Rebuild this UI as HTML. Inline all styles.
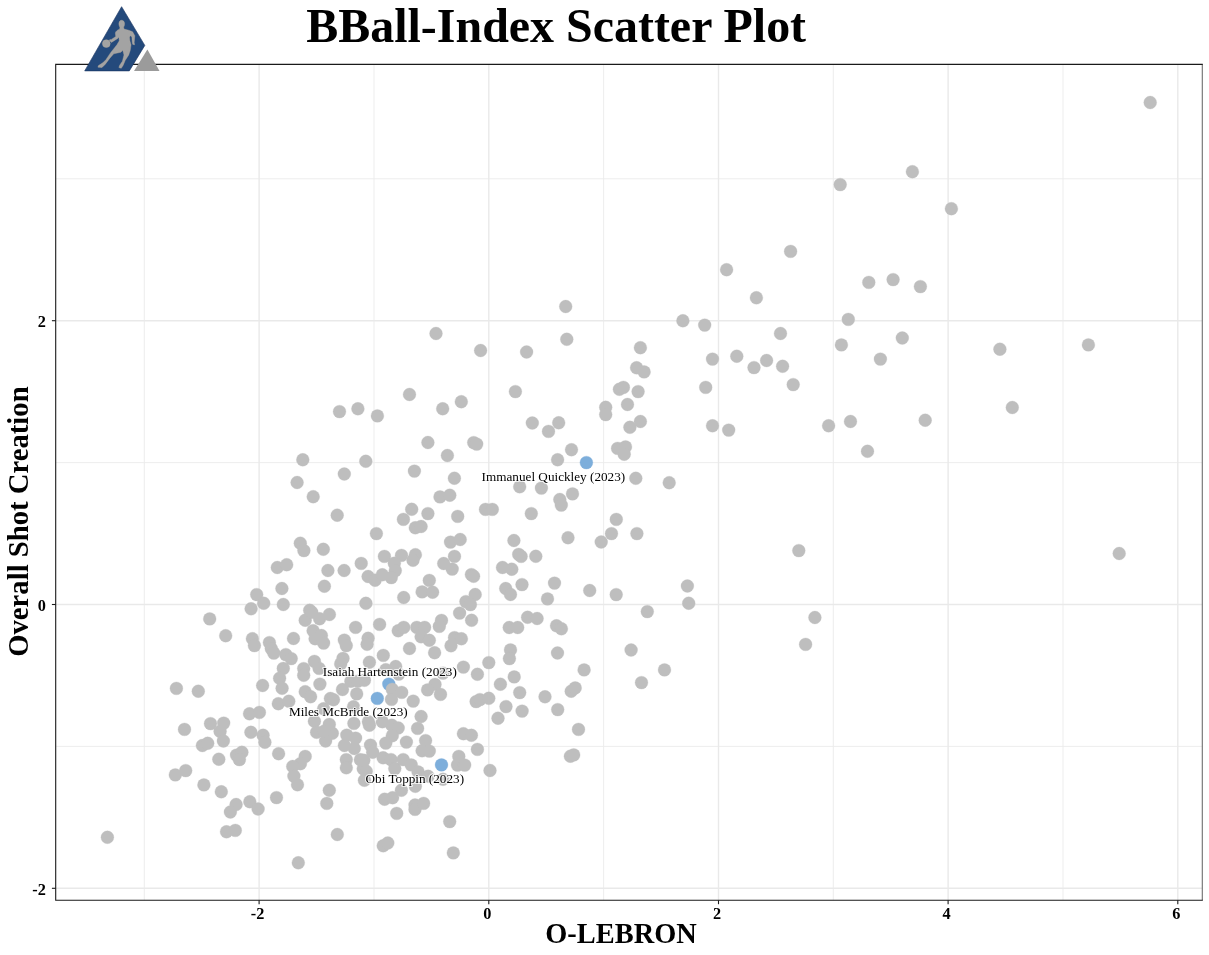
<!DOCTYPE html>
<html><head><meta charset="utf-8"><title>BBall-Index Scatter Plot</title>
<style>
html,body{margin:0;padding:0;background:#fff;}
body{width:1209px;height:955px;overflow:hidden;position:relative;font-family:"Liberation Serif","Times New Roman",serif;}
svg{position:absolute;left:0;top:0;display:block;}
text{font-family:"Liberation Serif","Times New Roman",serif;fill:#000;}
.t{font-weight:bold;font-size:16.3px;}
.g{fill:#bebebe;stroke:#bebebe;stroke-width:0.3;}
.b{fill:#7daedb;stroke:#7daedb;stroke-width:0.3;}
.lab{font-size:13.2px;paint-order:stroke;stroke:#ffffff;stroke-opacity:0.75;stroke-width:2.2px;stroke-linejoin:round;}
</style></head><body>
<svg width="1209" height="955" viewBox="0 0 1209 955">
<rect x="0" y="0" width="1209" height="955" fill="#ffffff"/>

<g stroke-width="1">
<line x1="144.3" y1="64.4" x2="144.3" y2="900.3" stroke="#ebebeb" stroke-width="0.9"/>
<line x1="374.0" y1="64.4" x2="374.0" y2="900.3" stroke="#ebebeb" stroke-width="0.9"/>
<line x1="603.6" y1="64.4" x2="603.6" y2="900.3" stroke="#ebebeb" stroke-width="0.9"/>
<line x1="833.3" y1="64.4" x2="833.3" y2="900.3" stroke="#ebebeb" stroke-width="0.9"/>
<line x1="1063.0" y1="64.4" x2="1063.0" y2="900.3" stroke="#ebebeb" stroke-width="0.9"/>
<line x1="55.7" y1="746.4" x2="1202.3" y2="746.4" stroke="#ebebeb" stroke-width="0.9"/>
<line x1="55.7" y1="462.6" x2="1202.3" y2="462.6" stroke="#ebebeb" stroke-width="0.9"/>
<line x1="55.7" y1="178.8" x2="1202.3" y2="178.8" stroke="#ebebeb" stroke-width="0.9"/>
<line x1="259.1" y1="64.4" x2="259.1" y2="900.3" stroke="#e9e9e9" stroke-width="1.4"/>
<line x1="488.8" y1="64.4" x2="488.8" y2="900.3" stroke="#e9e9e9" stroke-width="1.4"/>
<line x1="718.5" y1="64.4" x2="718.5" y2="900.3" stroke="#e9e9e9" stroke-width="1.4"/>
<line x1="948.1" y1="64.4" x2="948.1" y2="900.3" stroke="#e9e9e9" stroke-width="1.4"/>
<line x1="1177.8" y1="64.4" x2="1177.8" y2="900.3" stroke="#e9e9e9" stroke-width="1.4"/>
<line x1="55.7" y1="888.3" x2="1202.3" y2="888.3" stroke="#e9e9e9" stroke-width="1.4"/>
<line x1="55.7" y1="604.5" x2="1202.3" y2="604.5" stroke="#e9e9e9" stroke-width="1.4"/>
<line x1="55.7" y1="320.7" x2="1202.3" y2="320.7" stroke="#e9e9e9" stroke-width="1.4"/>
</g>
<g class="b">
<circle cx="586.4" cy="462.6" r="6.45"/>
<circle cx="388.8" cy="684.1" r="6.45"/>
<circle cx="377.3" cy="698.4" r="6.45"/>
<circle cx="441.5" cy="764.9" r="6.45"/>
</g>
<g class="g">
<circle cx="1150.2" cy="102.5" r="6.45"/>
<circle cx="912.4" cy="171.7" r="6.45"/>
<circle cx="951.4" cy="208.7" r="6.45"/>
<circle cx="920.4" cy="286.6" r="6.45"/>
<circle cx="840.2" cy="184.6" r="6.45"/>
<circle cx="790.6" cy="251.4" r="6.45"/>
<circle cx="726.6" cy="269.7" r="6.45"/>
<circle cx="756.4" cy="297.8" r="6.45"/>
<circle cx="868.8" cy="282.4" r="6.45"/>
<circle cx="893.1" cy="279.6" r="6.45"/>
<circle cx="565.7" cy="306.5" r="6.45"/>
<circle cx="566.8" cy="339.3" r="6.45"/>
<circle cx="480.6" cy="350.5" r="6.45"/>
<circle cx="526.6" cy="352.0" r="6.45"/>
<circle cx="640.4" cy="347.7" r="6.45"/>
<circle cx="636.6" cy="367.8" r="6.45"/>
<circle cx="644.1" cy="371.9" r="6.45"/>
<circle cx="515.4" cy="391.6" r="6.45"/>
<circle cx="461.3" cy="401.7" r="6.45"/>
<circle cx="619.4" cy="389.3" r="6.45"/>
<circle cx="623.4" cy="387.4" r="6.45"/>
<circle cx="638.1" cy="391.6" r="6.45"/>
<circle cx="627.5" cy="404.5" r="6.45"/>
<circle cx="605.7" cy="407.3" r="6.45"/>
<circle cx="605.7" cy="414.6" r="6.45"/>
<circle cx="640.4" cy="421.5" r="6.45"/>
<circle cx="629.9" cy="427.3" r="6.45"/>
<circle cx="532.3" cy="423.0" r="6.45"/>
<circle cx="558.7" cy="422.8" r="6.45"/>
<circle cx="548.5" cy="431.4" r="6.45"/>
<circle cx="682.9" cy="320.8" r="6.45"/>
<circle cx="704.7" cy="325.1" r="6.45"/>
<circle cx="780.5" cy="333.5" r="6.45"/>
<circle cx="712.5" cy="359.1" r="6.45"/>
<circle cx="736.8" cy="356.2" r="6.45"/>
<circle cx="766.6" cy="360.5" r="6.45"/>
<circle cx="754.0" cy="367.6" r="6.45"/>
<circle cx="782.6" cy="366.3" r="6.45"/>
<circle cx="793.2" cy="384.6" r="6.45"/>
<circle cx="705.7" cy="387.4" r="6.45"/>
<circle cx="712.5" cy="425.8" r="6.45"/>
<circle cx="728.7" cy="430.1" r="6.45"/>
<circle cx="828.6" cy="425.8" r="6.45"/>
<circle cx="848.3" cy="319.4" r="6.45"/>
<circle cx="841.4" cy="344.9" r="6.45"/>
<circle cx="902.3" cy="338.0" r="6.45"/>
<circle cx="880.4" cy="359.1" r="6.45"/>
<circle cx="999.9" cy="349.2" r="6.45"/>
<circle cx="1012.3" cy="407.5" r="6.45"/>
<circle cx="850.5" cy="421.5" r="6.45"/>
<circle cx="925.2" cy="420.2" r="6.45"/>
<circle cx="1088.4" cy="344.9" r="6.45"/>
<circle cx="436.0" cy="333.5" r="6.45"/>
<circle cx="409.5" cy="394.5" r="6.45"/>
<circle cx="339.5" cy="411.6" r="6.45"/>
<circle cx="357.9" cy="408.8" r="6.45"/>
<circle cx="377.4" cy="415.9" r="6.45"/>
<circle cx="442.7" cy="408.8" r="6.45"/>
<circle cx="427.9" cy="442.5" r="6.45"/>
<circle cx="302.8" cy="459.8" r="6.45"/>
<circle cx="365.8" cy="461.3" r="6.45"/>
<circle cx="344.3" cy="474.0" r="6.45"/>
<circle cx="297.1" cy="482.5" r="6.45"/>
<circle cx="313.2" cy="496.7" r="6.45"/>
<circle cx="337.2" cy="515.2" r="6.45"/>
<circle cx="376.4" cy="533.6" r="6.45"/>
<circle cx="300.3" cy="543.2" r="6.45"/>
<circle cx="303.9" cy="550.6" r="6.45"/>
<circle cx="323.3" cy="549.3" r="6.45"/>
<circle cx="277.3" cy="567.5" r="6.45"/>
<circle cx="286.7" cy="564.7" r="6.45"/>
<circle cx="327.9" cy="570.5" r="6.45"/>
<circle cx="344.1" cy="570.5" r="6.45"/>
<circle cx="361.2" cy="563.4" r="6.45"/>
<circle cx="281.9" cy="588.5" r="6.45"/>
<circle cx="324.4" cy="586.2" r="6.45"/>
<circle cx="384.4" cy="556.4" r="6.45"/>
<circle cx="401.5" cy="555.4" r="6.45"/>
<circle cx="415.4" cy="554.7" r="6.45"/>
<circle cx="413.0" cy="560.3" r="6.45"/>
<circle cx="394.3" cy="563.3" r="6.45"/>
<circle cx="395.3" cy="570.6" r="6.45"/>
<circle cx="368.1" cy="576.5" r="6.45"/>
<circle cx="375.1" cy="580.2" r="6.45"/>
<circle cx="382.3" cy="574.8" r="6.45"/>
<circle cx="391.3" cy="577.6" r="6.45"/>
<circle cx="450.5" cy="542.1" r="6.45"/>
<circle cx="460.2" cy="539.5" r="6.45"/>
<circle cx="454.5" cy="556.4" r="6.45"/>
<circle cx="443.7" cy="563.5" r="6.45"/>
<circle cx="452.2" cy="569.1" r="6.45"/>
<circle cx="429.3" cy="580.4" r="6.45"/>
<circle cx="422.1" cy="591.9" r="6.45"/>
<circle cx="432.6" cy="592.2" r="6.45"/>
<circle cx="403.7" cy="597.5" r="6.45"/>
<circle cx="365.9" cy="603.3" r="6.45"/>
<circle cx="473.7" cy="442.6" r="6.45"/>
<circle cx="476.7" cy="444.1" r="6.45"/>
<circle cx="447.4" cy="455.5" r="6.45"/>
<circle cx="414.4" cy="471.1" r="6.45"/>
<circle cx="454.4" cy="478.2" r="6.45"/>
<circle cx="440.0" cy="496.9" r="6.45"/>
<circle cx="449.8" cy="495.2" r="6.45"/>
<circle cx="411.7" cy="509.3" r="6.45"/>
<circle cx="427.9" cy="513.6" r="6.45"/>
<circle cx="403.4" cy="519.4" r="6.45"/>
<circle cx="415.3" cy="527.8" r="6.45"/>
<circle cx="421.1" cy="526.5" r="6.45"/>
<circle cx="457.7" cy="516.4" r="6.45"/>
<circle cx="485.5" cy="509.4" r="6.45"/>
<circle cx="492.3" cy="509.4" r="6.45"/>
<circle cx="471.4" cy="574.6" r="6.45"/>
<circle cx="473.6" cy="576.3" r="6.45"/>
<circle cx="571.5" cy="449.7" r="6.45"/>
<circle cx="557.6" cy="459.8" r="6.45"/>
<circle cx="519.7" cy="486.8" r="6.45"/>
<circle cx="541.4" cy="488.1" r="6.45"/>
<circle cx="572.5" cy="493.9" r="6.45"/>
<circle cx="559.8" cy="499.5" r="6.45"/>
<circle cx="561.3" cy="505.1" r="6.45"/>
<circle cx="531.3" cy="513.6" r="6.45"/>
<circle cx="568.0" cy="537.7" r="6.45"/>
<circle cx="513.9" cy="540.5" r="6.45"/>
<circle cx="518.7" cy="554.4" r="6.45"/>
<circle cx="521.1" cy="556.4" r="6.45"/>
<circle cx="535.8" cy="556.3" r="6.45"/>
<circle cx="502.5" cy="567.5" r="6.45"/>
<circle cx="511.8" cy="569.2" r="6.45"/>
<circle cx="522.0" cy="584.6" r="6.45"/>
<circle cx="554.5" cy="583.1" r="6.45"/>
<circle cx="617.6" cy="448.4" r="6.45"/>
<circle cx="625.5" cy="446.9" r="6.45"/>
<circle cx="624.2" cy="454.2" r="6.45"/>
<circle cx="635.8" cy="478.3" r="6.45"/>
<circle cx="669.2" cy="482.7" r="6.45"/>
<circle cx="616.3" cy="519.4" r="6.45"/>
<circle cx="611.5" cy="533.6" r="6.45"/>
<circle cx="636.9" cy="533.6" r="6.45"/>
<circle cx="601.2" cy="542.0" r="6.45"/>
<circle cx="687.4" cy="586.0" r="6.45"/>
<circle cx="867.5" cy="451.3" r="6.45"/>
<circle cx="1119.2" cy="553.5" r="6.45"/>
<circle cx="798.8" cy="550.6" r="6.45"/>
<circle cx="814.9" cy="617.5" r="6.45"/>
<circle cx="805.6" cy="644.4" r="6.45"/>
<circle cx="209.7" cy="618.9" r="6.45"/>
<circle cx="225.7" cy="635.7" r="6.45"/>
<circle cx="176.4" cy="688.4" r="6.45"/>
<circle cx="198.3" cy="691.2" r="6.45"/>
<circle cx="184.5" cy="729.4" r="6.45"/>
<circle cx="210.5" cy="723.6" r="6.45"/>
<circle cx="223.7" cy="723.1" r="6.45"/>
<circle cx="220.1" cy="731.4" r="6.45"/>
<circle cx="223.4" cy="741.0" r="6.45"/>
<circle cx="202.4" cy="745.5" r="6.45"/>
<circle cx="207.7" cy="743.3" r="6.45"/>
<circle cx="218.8" cy="759.2" r="6.45"/>
<circle cx="236.5" cy="755.1" r="6.45"/>
<circle cx="241.9" cy="752.3" r="6.45"/>
<circle cx="239.4" cy="759.6" r="6.45"/>
<circle cx="175.3" cy="774.9" r="6.45"/>
<circle cx="185.7" cy="770.6" r="6.45"/>
<circle cx="203.9" cy="784.9" r="6.45"/>
<circle cx="221.3" cy="791.8" r="6.45"/>
<circle cx="236.1" cy="804.5" r="6.45"/>
<circle cx="230.4" cy="812.0" r="6.45"/>
<circle cx="226.5" cy="831.8" r="6.45"/>
<circle cx="235.3" cy="830.4" r="6.45"/>
<circle cx="107.4" cy="837.3" r="6.45"/>
<circle cx="256.7" cy="594.6" r="6.45"/>
<circle cx="263.7" cy="603.3" r="6.45"/>
<circle cx="251.1" cy="608.8" r="6.45"/>
<circle cx="283.3" cy="604.5" r="6.45"/>
<circle cx="309.7" cy="610.3" r="6.45"/>
<circle cx="305.2" cy="620.2" r="6.45"/>
<circle cx="319.6" cy="618.8" r="6.45"/>
<circle cx="329.4" cy="614.5" r="6.45"/>
<circle cx="311.8" cy="612.3" r="6.45"/>
<circle cx="313.1" cy="630.7" r="6.45"/>
<circle cx="315.1" cy="638.7" r="6.45"/>
<circle cx="321.4" cy="635.5" r="6.45"/>
<circle cx="323.6" cy="643.1" r="6.45"/>
<circle cx="344.3" cy="640.1" r="6.45"/>
<circle cx="346.3" cy="645.6" r="6.45"/>
<circle cx="293.5" cy="638.5" r="6.45"/>
<circle cx="252.4" cy="638.7" r="6.45"/>
<circle cx="254.4" cy="645.6" r="6.45"/>
<circle cx="269.4" cy="642.6" r="6.45"/>
<circle cx="271.3" cy="648.6" r="6.45"/>
<circle cx="273.8" cy="653.1" r="6.45"/>
<circle cx="285.8" cy="654.6" r="6.45"/>
<circle cx="291.2" cy="658.6" r="6.45"/>
<circle cx="314.4" cy="661.4" r="6.45"/>
<circle cx="319.1" cy="668.4" r="6.45"/>
<circle cx="303.7" cy="668.6" r="6.45"/>
<circle cx="303.7" cy="675.3" r="6.45"/>
<circle cx="343.0" cy="658.4" r="6.45"/>
<circle cx="340.7" cy="663.9" r="6.45"/>
<circle cx="283.3" cy="668.4" r="6.45"/>
<circle cx="279.6" cy="678.3" r="6.45"/>
<circle cx="282.1" cy="688.3" r="6.45"/>
<circle cx="262.6" cy="685.5" r="6.45"/>
<circle cx="319.9" cy="684.1" r="6.45"/>
<circle cx="305.2" cy="691.7" r="6.45"/>
<circle cx="310.6" cy="696.7" r="6.45"/>
<circle cx="278.3" cy="703.7" r="6.45"/>
<circle cx="288.8" cy="701.2" r="6.45"/>
<circle cx="249.5" cy="713.8" r="6.45"/>
<circle cx="259.4" cy="712.4" r="6.45"/>
<circle cx="342.5" cy="689.5" r="6.45"/>
<circle cx="250.9" cy="732.3" r="6.45"/>
<circle cx="263.1" cy="735.3" r="6.45"/>
<circle cx="264.9" cy="742.3" r="6.45"/>
<circle cx="278.6" cy="753.7" r="6.45"/>
<circle cx="305.2" cy="756.4" r="6.45"/>
<circle cx="300.4" cy="763.7" r="6.45"/>
<circle cx="292.7" cy="766.5" r="6.45"/>
<circle cx="293.9" cy="776.1" r="6.45"/>
<circle cx="297.5" cy="784.8" r="6.45"/>
<circle cx="329.3" cy="790.2" r="6.45"/>
<circle cx="314.4" cy="721.2" r="6.45"/>
<circle cx="329.3" cy="724.4" r="6.45"/>
<circle cx="316.6" cy="732.3" r="6.45"/>
<circle cx="332.3" cy="733.3" r="6.45"/>
<circle cx="325.6" cy="741.0" r="6.45"/>
<circle cx="353.9" cy="723.4" r="6.45"/>
<circle cx="323.6" cy="708.8" r="6.45"/>
<circle cx="276.5" cy="797.6" r="6.45"/>
<circle cx="249.8" cy="801.7" r="6.45"/>
<circle cx="258.1" cy="809.0" r="6.45"/>
<circle cx="326.8" cy="803.4" r="6.45"/>
<circle cx="337.3" cy="834.5" r="6.45"/>
<circle cx="298.3" cy="862.8" r="6.45"/>
<circle cx="355.6" cy="627.4" r="6.45"/>
<circle cx="379.6" cy="624.4" r="6.45"/>
<circle cx="398.2" cy="630.8" r="6.45"/>
<circle cx="403.7" cy="627.4" r="6.45"/>
<circle cx="416.8" cy="627.4" r="6.45"/>
<circle cx="424.6" cy="627.4" r="6.45"/>
<circle cx="421.1" cy="636.8" r="6.45"/>
<circle cx="429.3" cy="640.3" r="6.45"/>
<circle cx="441.5" cy="620.4" r="6.45"/>
<circle cx="439.3" cy="626.4" r="6.45"/>
<circle cx="459.6" cy="613.1" r="6.45"/>
<circle cx="368.1" cy="638.3" r="6.45"/>
<circle cx="367.1" cy="644.3" r="6.45"/>
<circle cx="409.5" cy="648.5" r="6.45"/>
<circle cx="434.6" cy="652.7" r="6.45"/>
<circle cx="451.0" cy="645.8" r="6.45"/>
<circle cx="454.5" cy="637.6" r="6.45"/>
<circle cx="383.3" cy="655.4" r="6.45"/>
<circle cx="369.4" cy="662.2" r="6.45"/>
<circle cx="385.8" cy="669.7" r="6.45"/>
<circle cx="395.7" cy="666.5" r="6.45"/>
<circle cx="398.7" cy="674.1" r="6.45"/>
<circle cx="443.0" cy="673.1" r="6.45"/>
<circle cx="392.3" cy="689.4" r="6.45"/>
<circle cx="401.7" cy="692.4" r="6.45"/>
<circle cx="391.5" cy="699.4" r="6.45"/>
<circle cx="413.2" cy="701.1" r="6.45"/>
<circle cx="435.0" cy="684.4" r="6.45"/>
<circle cx="427.6" cy="689.9" r="6.45"/>
<circle cx="440.5" cy="694.4" r="6.45"/>
<circle cx="356.7" cy="693.9" r="6.45"/>
<circle cx="353.5" cy="706.8" r="6.45"/>
<circle cx="421.1" cy="716.5" r="6.45"/>
<circle cx="417.6" cy="728.4" r="6.45"/>
<circle cx="368.4" cy="721.7" r="6.45"/>
<circle cx="369.4" cy="725.2" r="6.45"/>
<circle cx="382.3" cy="721.7" r="6.45"/>
<circle cx="391.8" cy="725.2" r="6.45"/>
<circle cx="398.2" cy="728.0" r="6.45"/>
<circle cx="392.3" cy="735.7" r="6.45"/>
<circle cx="385.8" cy="743.1" r="6.45"/>
<circle cx="406.4" cy="742.1" r="6.45"/>
<circle cx="425.6" cy="740.6" r="6.45"/>
<circle cx="422.1" cy="750.8" r="6.45"/>
<circle cx="429.3" cy="751.1" r="6.45"/>
<circle cx="350.9" cy="681.2" r="6.45"/>
<circle cx="357.8" cy="681.2" r="6.45"/>
<circle cx="364.4" cy="680.3" r="6.45"/>
<circle cx="330.4" cy="698.5" r="6.45"/>
<circle cx="333.5" cy="699.7" r="6.45"/>
<circle cx="346.8" cy="735.1" r="6.45"/>
<circle cx="355.6" cy="738.1" r="6.45"/>
<circle cx="344.4" cy="745.5" r="6.45"/>
<circle cx="354.3" cy="748.5" r="6.45"/>
<circle cx="346.3" cy="759.6" r="6.45"/>
<circle cx="346.3" cy="767.8" r="6.45"/>
<circle cx="370.5" cy="745.1" r="6.45"/>
<circle cx="372.7" cy="752.2" r="6.45"/>
<circle cx="383.1" cy="757.8" r="6.45"/>
<circle cx="449.7" cy="821.6" r="6.45"/>
<circle cx="396.7" cy="813.4" r="6.45"/>
<circle cx="415.0" cy="805.0" r="6.45"/>
<circle cx="415.0" cy="809.4" r="6.45"/>
<circle cx="423.6" cy="803.4" r="6.45"/>
<circle cx="384.6" cy="799.2" r="6.45"/>
<circle cx="392.6" cy="797.7" r="6.45"/>
<circle cx="401.4" cy="790.3" r="6.45"/>
<circle cx="415.3" cy="786.3" r="6.45"/>
<circle cx="443.0" cy="779.3" r="6.45"/>
<circle cx="364.4" cy="780.3" r="6.45"/>
<circle cx="363.2" cy="768.7" r="6.45"/>
<circle cx="391.0" cy="759.6" r="6.45"/>
<circle cx="394.8" cy="768.6" r="6.45"/>
<circle cx="403.2" cy="759.6" r="6.45"/>
<circle cx="411.2" cy="764.9" r="6.45"/>
<circle cx="418.1" cy="771.9" r="6.45"/>
<circle cx="428.1" cy="776.3" r="6.45"/>
<circle cx="475.2" cy="594.5" r="6.45"/>
<circle cx="465.9" cy="601.6" r="6.45"/>
<circle cx="470.4" cy="604.6" r="6.45"/>
<circle cx="471.6" cy="620.3" r="6.45"/>
<circle cx="505.7" cy="588.5" r="6.45"/>
<circle cx="510.5" cy="594.5" r="6.45"/>
<circle cx="547.5" cy="598.9" r="6.45"/>
<circle cx="527.6" cy="617.3" r="6.45"/>
<circle cx="537.1" cy="618.5" r="6.45"/>
<circle cx="509.2" cy="627.5" r="6.45"/>
<circle cx="517.7" cy="627.5" r="6.45"/>
<circle cx="556.5" cy="625.8" r="6.45"/>
<circle cx="561.4" cy="628.8" r="6.45"/>
<circle cx="557.5" cy="653.0" r="6.45"/>
<circle cx="510.5" cy="649.9" r="6.45"/>
<circle cx="509.4" cy="658.6" r="6.45"/>
<circle cx="488.8" cy="662.6" r="6.45"/>
<circle cx="463.4" cy="667.1" r="6.45"/>
<circle cx="477.4" cy="674.3" r="6.45"/>
<circle cx="461.4" cy="638.8" r="6.45"/>
<circle cx="514.2" cy="676.9" r="6.45"/>
<circle cx="500.4" cy="684.2" r="6.45"/>
<circle cx="519.7" cy="692.6" r="6.45"/>
<circle cx="545.0" cy="696.8" r="6.45"/>
<circle cx="557.7" cy="709.6" r="6.45"/>
<circle cx="476.1" cy="701.6" r="6.45"/>
<circle cx="479.9" cy="699.6" r="6.45"/>
<circle cx="488.8" cy="698.3" r="6.45"/>
<circle cx="506.0" cy="706.6" r="6.45"/>
<circle cx="522.1" cy="711.1" r="6.45"/>
<circle cx="498.0" cy="718.2" r="6.45"/>
<circle cx="463.4" cy="733.7" r="6.45"/>
<circle cx="471.4" cy="735.3" r="6.45"/>
<circle cx="477.4" cy="749.4" r="6.45"/>
<circle cx="458.8" cy="756.4" r="6.45"/>
<circle cx="457.5" cy="765.1" r="6.45"/>
<circle cx="464.7" cy="765.1" r="6.45"/>
<circle cx="490.0" cy="770.5" r="6.45"/>
<circle cx="589.7" cy="590.5" r="6.45"/>
<circle cx="616.2" cy="594.6" r="6.45"/>
<circle cx="647.3" cy="611.6" r="6.45"/>
<circle cx="688.7" cy="603.2" r="6.45"/>
<circle cx="631.1" cy="650.0" r="6.45"/>
<circle cx="584.1" cy="669.9" r="6.45"/>
<circle cx="664.5" cy="669.9" r="6.45"/>
<circle cx="641.5" cy="682.6" r="6.45"/>
<circle cx="571.2" cy="691.2" r="6.45"/>
<circle cx="575.2" cy="687.9" r="6.45"/>
<circle cx="578.5" cy="729.4" r="6.45"/>
<circle cx="570.4" cy="756.2" r="6.45"/>
<circle cx="573.7" cy="754.9" r="6.45"/>
<circle cx="383.2" cy="845.8" r="6.45"/>
<circle cx="387.8" cy="843.0" r="6.45"/>
<circle cx="453.3" cy="852.9" r="6.45"/>
<circle cx="366.2" cy="771.3" r="6.45"/>
<circle cx="360.4" cy="759.8" r="6.45"/>
<circle cx="363.8" cy="760.3" r="6.45"/>
<circle cx="324.1" cy="731.3" r="6.45"/>
</g>
<line x1="1202.3" y1="64.4" x2="1202.3" y2="900.3" stroke="#6e6e6e" stroke-width="1.1"/>
<path d="M1202.8 64.4 L55.7 64.4 L55.7 900.3 L1202.8 900.3" fill="none" stroke="#1a1a1a" stroke-width="1.1"/>
<g stroke="#1a1a1a" stroke-width="1.1">
<line x1="259.1" y1="900.3" x2="259.1" y2="904.1999999999999"/>
<line x1="488.8" y1="900.3" x2="488.8" y2="904.1999999999999"/>
<line x1="718.5" y1="900.3" x2="718.5" y2="904.1999999999999"/>
<line x1="948.1" y1="900.3" x2="948.1" y2="904.1999999999999"/>
<line x1="1177.8" y1="900.3" x2="1177.8" y2="904.1999999999999"/>
<line x1="51.900000000000006" y1="888.3" x2="55.7" y2="888.3"/>
<line x1="51.900000000000006" y1="604.5" x2="55.7" y2="604.5"/>
<line x1="51.900000000000006" y1="320.7" x2="55.7" y2="320.7"/>
</g>
<text class="t" x="257.6" y="918.8" text-anchor="middle">-2</text>
<text class="t" x="487.3" y="918.8" text-anchor="middle">0</text>
<text class="t" x="717.0" y="918.8" text-anchor="middle">2</text>
<text class="t" x="946.6" y="918.8" text-anchor="middle">4</text>
<text class="t" x="1176.3" y="918.8" text-anchor="middle">6</text>
<text class="t" x="45.8" y="894.5" text-anchor="end">-2</text>
<text class="t" x="45.8" y="610.7" text-anchor="end">0</text>
<text class="t" x="45.8" y="326.9" text-anchor="end">2</text>
<text x="556.2" y="41.5" text-anchor="middle" font-weight="bold" font-size="47.95px">BBall-Index Scatter Plot</text>
<text x="621" y="942.7" text-anchor="middle" font-weight="bold" font-size="28.4px">O-LEBRON</text>
<text transform="translate(28.4,521.6) rotate(-90)" text-anchor="middle" font-weight="bold" font-size="28.7px">Overall Shot Creation</text>
<text class="lab" x="553.4" y="480.9" text-anchor="middle">Immanuel Quickley (2023)</text>
<text class="lab" x="389.8" y="675.9" text-anchor="middle">Isaiah Hartenstein (2023)</text>
<text class="lab" x="348.3" y="716.0" text-anchor="middle">Miles McBride (2023)</text>
<text class="lab" x="414.8" y="782.8" text-anchor="middle">Obi Toppin (2023)</text>
<g>
<polygon points="121.6,6.7 144.8,45.4 129.3,70.9 84.7,70.9" fill="#244a7c" stroke="#16305e" stroke-width="0.6" stroke-linejoin="miter"/>
<polygon points="147.4,49.6 159.5,70.9 134,70.9" fill="#9b9b9b"/>
<g transform="translate(80,0) scale(0.07855)" fill="#a3a3a3" stroke="#b8aa98" stroke-width="5">
<circle cx="335" cy="555" r="50"/>
<path d="M530 258 C500 258 490 290 498 325 L508 350 L505 372 C480 380 455 395 450 420 L455 465 L395 505 C385 500 375 505 372 512 L400 540 L480 490 L495 470 L500 520 L470 570 L390 670 L330 760 L290 800 L235 835 L228 855 L280 860 L320 820 L380 740 L430 685 L520 665 L545 640 L560 700 L540 780 L505 830 L495 860 L525 870 L550 830 L575 770 L620 700 L640 640 L650 570 L635 520 L630 470 L645 455 L660 470 L665 540 L672 565 L695 570 L690 540 L698 455 L670 405 L620 385 L560 370 L555 345 C575 320 575 260 530 258 Z"/>
</g>
</g>
</svg></body></html>
